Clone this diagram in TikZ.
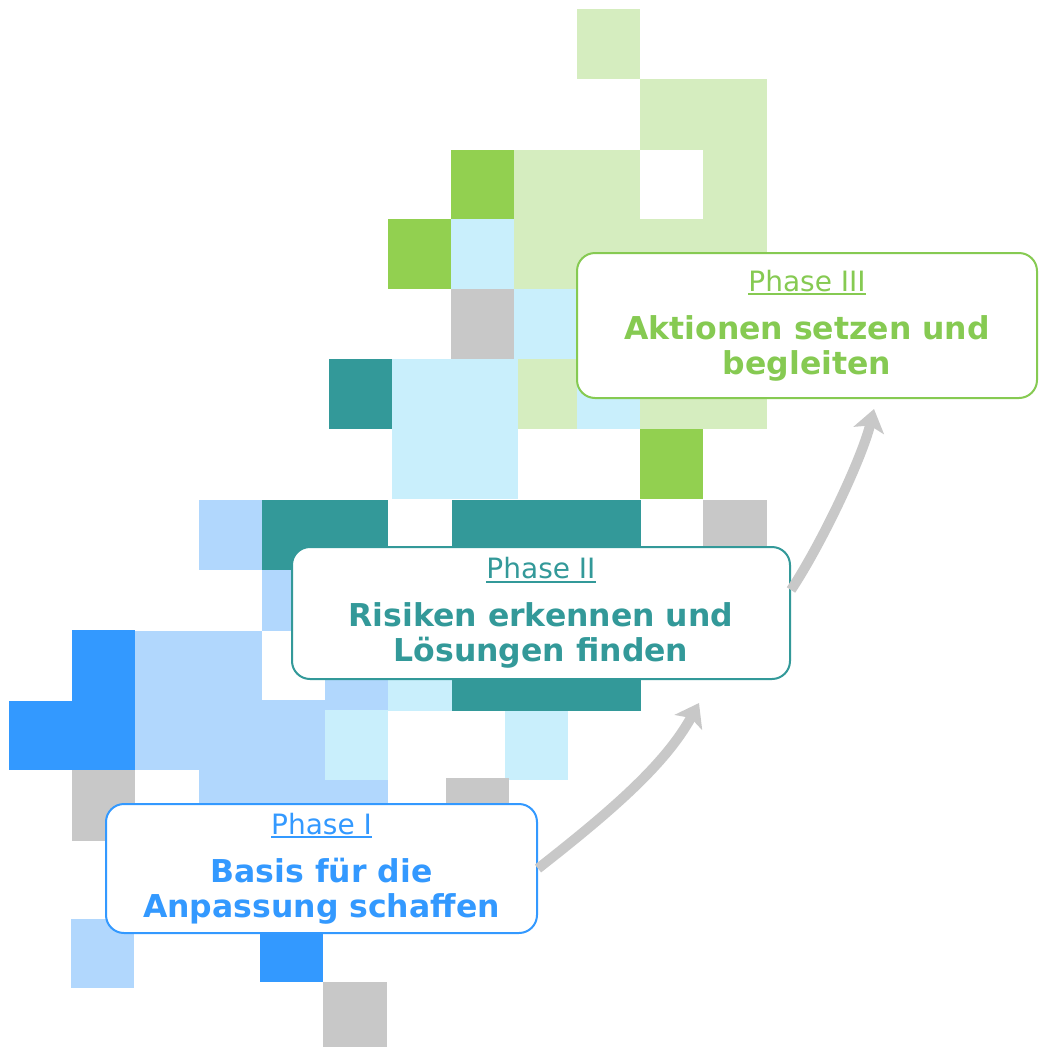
\documentclass[tikz,border=0pt]{standalone}
\usepackage{fontspec}
\setmainfont{DejaVu Sans}
\usepackage{tikz}
\usetikzlibrary{shapes, arrows.meta}
\definecolor{lgreen}{HTML}{D5EDBF}
\definecolor{mgreen}{HTML}{92D050}
\definecolor{pcyan}{HTML}{C9EFFC}
\definecolor{pgray}{HTML}{C8C8C8}
\definecolor{pteal}{HTML}{339999}
\definecolor{dblue}{HTML}{3399FF}
\definecolor{lblue}{HTML}{B1D7FD}
\definecolor{tgreen}{HTML}{86CA52}
\newcommand{\phasetitle}[1]{{\mdseries\fontsize{28}{35}\selectfont\setbox0=\hbox{#1}\rlap{\rule[-3.8pt]{\wd0}{1.6pt}}\box0}}
\tikzstyle{lgcell} = [fill=lgreen]
\tikzstyle{mgcell} = [fill=mgreen]
\tikzstyle{cycell} = [fill=pcyan]
\tikzstyle{grcell} = [fill=pgray]
\tikzstyle{tecell} = [fill=pteal]
\tikzstyle{dbcell} = [fill=dblue]
\tikzstyle{lbcell} = [fill=lblue]
\tikzstyle{phase} = [rectangle, draw, fill=white, rounded corners=18pt, line width=2pt, align=center, font=\fontsize{31.5}{35}\selectfont\bfseries]
\tikzstyle{phaseone} = [phase, draw=dblue, text=dblue, minimum width=431pt, minimum height=129pt]
\tikzstyle{phasetwo} = [phase, draw=pteal, text=pteal, minimum width=498pt, minimum height=132pt]
\tikzstyle{phasethree} = [phase, draw=tgreen, text=tgreen, minimum width=460pt, minimum height=145pt]
\tikzstyle{line} = [draw=pgray, line width=10pt, -{Stealth[length=22pt, width=31pt, inset=5pt]}]
\begin{document}
\begin{tikzpicture}[x=1pt, y=-1pt]
    \useasboundingbox (0,0) rectangle (1039,1047);

    % green part
    \fill[lgcell] (577,9) rectangle (640,79);
    \fill[lgcell] (640,79) rectangle (767,150);
    \fill[lgcell] (514,150) rectangle (640,219);
    \fill[lgcell] (703,150) rectangle (767,219);
    \fill[lgcell] (514,219) rectangle (767,289);
    \fill[lgcell] (577,289) rectangle (767,429);
    \fill[lgcell] (518,359) rectangle (577,429);
    \fill[mgcell] (451,150) rectangle (514,219);
    \fill[mgcell] (388,219) rectangle (451,289);
    \fill[mgcell] (640,429) rectangle (703,499);
    \fill[cycell] (451,219) rectangle (514,289);
    \fill[cycell] (514,289) rectangle (577,359);
    \fill[cycell] (577,359) rectangle (640,429);
    \fill[cycell] (392,359) rectangle (518,499);
    \fill[grcell] (451,289) rectangle (514,359);
    \fill[tecell] (329,359) rectangle (392,429);

    % teal part
    \fill[lbcell] (199,500) rectangle (262,570);
    \fill[tecell] (262,500) rectangle (388,570);
    \fill[tecell] (452,500) rectangle (641,711);
    \fill[grcell] (703,500) rectangle (767,570);
    \fill[lbcell] (262,570) rectangle (325,631);
    \fill[cycell] (388,641) rectangle (452,711);
    \fill[cycell] (505,711) rectangle (568,780);
    \fill[grcell] (446,778) rectangle (509,848);

    % blue part
    \fill[lbcell] (135,631) rectangle (262,770);
    \fill[lbcell] (262,700) rectangle (388,770);
    \fill[lbcell] (325,641) rectangle (388,700);
    \fill[lbcell] (199,770) rectangle (388,840);
    \fill[cycell] (325,710) rectangle (388,780);
    \fill[dbcell] (72,630) rectangle (135,770);
    \fill[dbcell] (9,701) rectangle (72,770);
    \fill[grcell] (72,770) rectangle (135,841);
    \fill[lbcell] (71,919) rectangle (134,988);
    \fill[dbcell] (260,912) rectangle (323,982);
    \fill[grcell] (323,982) rectangle (387,1047);

    \node[phasethree] (three) at (807,325.5) {\phasetitle{Phase III}\\[13pt]Aktionen setzen und\\begleiten};
    \node[phasetwo] (two) at (541,613) {\phasetitle{Phase II}\\[13pt]Risiken erkennen und\\Lösungen finden};
    \node[phaseone] (one) at (321.5,868.5) {\phasetitle{Phase I}\\[13pt]Basis für die\\Anpassung schaffen};

    \coordinate (tipone) at (699,703);
    \coordinate (tiptwo) at (874,409);
    \path[line] (one.east) .. controls (610,812) and (665,765) .. (tipone);
    \path[line] ([yshift=23pt]two.east) .. controls (822,543) and (862,458) .. (tiptwo);
\end{tikzpicture}
\end{document}
